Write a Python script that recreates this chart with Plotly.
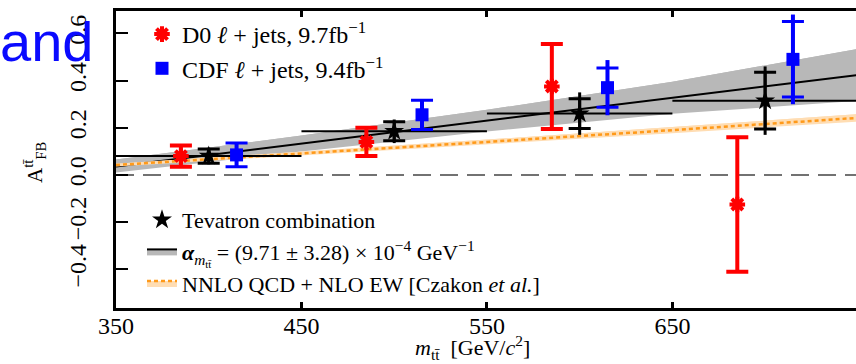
import plotly.graph_objects as go

# ---------------- data ----------------
d0_mass = [385, 485, 585, 685]
d0_afb = [0.08, 0.14, 0.375, -0.125]
d0_err = [0.045, 0.06, 0.18, 0.285]

cdf_mass = [415, 515, 615, 715]
cdf_afb = [0.085, 0.255, 0.37, 0.49]
cdf_stat = [0.05, 0.062, 0.083, 0.16]
cdf_total = [0.05, 0.065, 0.117, 0.19]

comb_mass = [400, 500, 600, 700]
comb_afb = [0.08, 0.185, 0.26, 0.315]
comb_bin_half = [50, 50, 50, 50]
comb_stat = [0.03, 0.04, 0.063, 0.12]
comb_total = [0.035, 0.05, 0.09, 0.145]

fit_mass = [350, 450, 550, 650, 750]
fit_afb = [0.036, 0.133, 0.230, 0.327, 0.424]
fit_lo = [0.010, 0.099, 0.184, 0.259, 0.314]
fit_hi = [0.066, 0.167, 0.276, 0.395, 0.534]

nnlo_mass = [350, 450, 550, 650, 750]
nnlo_afb = [0.042, 0.090, 0.140, 0.190, 0.242]
nnlo_lo = [0.036, 0.082, 0.130, 0.177, 0.226]
nnlo_hi = [0.048, 0.098, 0.150, 0.203, 0.258]

x_ticks = [350, 450, 550, 650]
y_ticks = [-0.4, -0.2, 0.0, 0.2, 0.4, 0.6]

X_RANGE = [350, 749]
Y_RANGE = [-0.564, 0.695]

# ---------------- layout geometry helpers ----------------
W, H = 856, 364
ML, MR, MT, MB = 116, 0, 11, 56
PW, PH = W - ML - MR, H - MT - MB


def px_x(px):
    return (px - ML) / PW


def px_y(py):
    return (H - MB - py) / PH


SERIF = "Liberation Serif"
RED = "#FF0000"
BLUE = "#0000FF"
GRAY = "#B8B8B8"
ORANGE = "#FF9A1A"
ORANGE_BAND = "#FFDDB3"

fig = go.Figure()

# fit band (gray) + line
fig.add_trace(go.Scatter(x=fit_mass, y=fit_lo, mode="lines", line=dict(width=0),
                         showlegend=False, hoverinfo="skip"))
fig.add_trace(go.Scatter(x=fit_mass, y=fit_hi, mode="lines", line=dict(width=0),
                         fill="tonexty", fillcolor=GRAY, showlegend=False, hoverinfo="skip"))
fig.add_trace(go.Scatter(x=fit_mass, y=fit_afb, mode="lines", line=dict(color="black", width=2),
                         fill="tonexty", fillcolor=GRAY, legend="legend2", legendrank=2,
                         name="<b><i>α</i></b><sub><i>m</i><sub>tt̄</sub></sub> = (9.71 ± 3.28) × 10<sup>−4</sup> GeV<sup>−1</sup>"))

# NNLO band (orange) + dotted line
fig.add_trace(go.Scatter(x=nnlo_mass, y=nnlo_lo, mode="lines", line=dict(width=0),
                         showlegend=False, hoverinfo="skip"))
fig.add_trace(go.Scatter(x=nnlo_mass, y=nnlo_hi, mode="lines", line=dict(width=0),
                         fill="tonexty", fillcolor=ORANGE_BAND, showlegend=False, hoverinfo="skip"))
fig.add_trace(go.Scatter(x=nnlo_mass, y=nnlo_afb, mode="lines",
                         line=dict(color=ORANGE, width=2.5, dash="4px,3px"),
                         fill="tonexty", fillcolor=ORANGE_BAND, legend="legend2", legendrank=3,
                         name="NNLO QCD + NLO EW [Czakon <i>et al.</i>]"))

# Tevatron combination: total error (line) and stat error (caps)
fig.add_trace(go.Scatter(x=comb_mass, y=comb_afb, mode="markers", marker=dict(size=1, color="black"),
                         error_x=dict(type="data", array=comb_bin_half, width=0, thickness=2, color="black"),
                         error_y=dict(type="data", array=comb_total, width=0, thickness=3, color="black"),
                         showlegend=False, hoverinfo="skip"))
fig.add_trace(go.Scatter(x=comb_mass, y=comb_afb, mode="markers",
                         marker=dict(symbol="star", size=15, color="black"),
                         error_y=dict(type="data", array=comb_stat, width=11, thickness=3, color="black"),
                         legend="legend2", legendrank=1, name="Tevatron combination"))

# CDF
fig.add_trace(go.Scatter(x=cdf_mass, y=cdf_afb, mode="markers", marker=dict(size=1, color=BLUE),
                         error_y=dict(type="data", array=cdf_total, width=0, thickness=4, color=BLUE),
                         showlegend=False, hoverinfo="skip"))
fig.add_trace(go.Scatter(x=cdf_mass, y=cdf_afb, mode="markers",
                         marker=dict(symbol="square", size=13, color=BLUE),
                         error_y=dict(type="data", array=cdf_stat, width=11, thickness=3, color=BLUE),
                         legend="legend", legendrank=2, name="CDF <i>ℓ</i> + jets, 9.4fb<sup>−1</sup>"))

# D0
fig.add_trace(go.Scatter(x=d0_mass, y=d0_afb, mode="markers",
                         marker=dict(symbol="asterisk-open", size=13, color=RED,
                                     line=dict(color=RED, width=4)),
                         error_y=dict(type="data", array=d0_err, width=11, thickness=4, color=RED),
                         legend="legend", legendrank=1, name="D0 <i>ℓ</i> + jets, 9.7fb<sup>−1</sup>"))

# zero reference line
fig.add_hline(y=0, line=dict(color="#444444", width=1.5, dash="18px,9px"), layer="below")

fig.update_layout(
    template="none",
    width=W, height=H,
    margin=dict(l=ML, r=MR, t=MT, b=MB, autoexpand=False),
    paper_bgcolor="white", plot_bgcolor="white",
    font=dict(family=SERIF, size=22, color="black"),
    xaxis=dict(range=X_RANGE, tickvals=x_ticks, ticks="inside", ticklen=6, tickwidth=3,
               color="black", tickcolor="black", showline=True, linewidth=2.5, linecolor="black",
               mirror="ticks", showgrid=False, zeroline=False, automargin=False,
               tickfont=dict(family=SERIF, size=24, color="black"), ticklabelstandoff=-6),
    yaxis=dict(range=Y_RANGE, tickvals=y_ticks, tickformat=".1f", ticks="inside", ticklen=12,
               tickwidth=2, color="black", tickcolor="black", showline=True, linewidth=2.5,
               linecolor="black", showgrid=False, zeroline=False, tickangle=-90, automargin=False,
               tickfont=dict(family=SERIF, size=24, color="black"), ticklabelstandoff=18),
    yaxis2=dict(range=Y_RANGE, overlaying="y", side="right", tickvals=y_ticks, ticks="inside",
                ticklen=10, tickwidth=2, color="black", tickcolor="black", showticklabels=False,
                showline=False, showgrid=False, zeroline=False, automargin=False),
    legend=dict(x=px_x(142), y=px_y(12), xanchor="left", yanchor="top", traceorder="normal",
                bgcolor="rgba(0,0,0,0)", borderwidth=0,
                font=dict(family=SERIF, size=24, color="black")),
    legend2=dict(x=px_x(142), y=px_y(199), xanchor="left", yanchor="top", traceorder="normal",
                 bgcolor="rgba(0,0,0,0)", borderwidth=0,
                 font=dict(family=SERIF, size=22, color="black")),
    showlegend=True,
)

# axis titles
fig.add_annotation(x=px_x(472), y=px_y(347), xref="paper", yref="paper",
                   text="<i>m</i><sub>tt̄</sub>  [GeV/<i>c</i><sup>2</sup>]",
                   showarrow=False, font=dict(family=SERIF, size=22, color="black"),
                   xanchor="center", yanchor="middle")
fig.add_annotation(x=px_x(34), y=px_y(162), xref="paper", yref="paper",
                   text="A<sup>tt̄</sup><sub>FB</sub>", textangle=-90,
                   showarrow=False, font=dict(family=SERIF, size=21, color="black"),
                   xanchor="center", yanchor="middle")

# overlaid blue word
fig.add_annotation(x=px_x(-2), y=px_y(42), xref="paper", yref="paper",
                   text="and", showarrow=False,
                   font=dict(family="Liberation Sans", size=56, color="#0A0AFF"),
                   xanchor="left", yanchor="middle")

# remove the browser's default page margin so the figure sits at the window origin
fig.write_html("out.html", config={"displayModeBar": False},
               post_script="document.body.style.margin='0px';")
